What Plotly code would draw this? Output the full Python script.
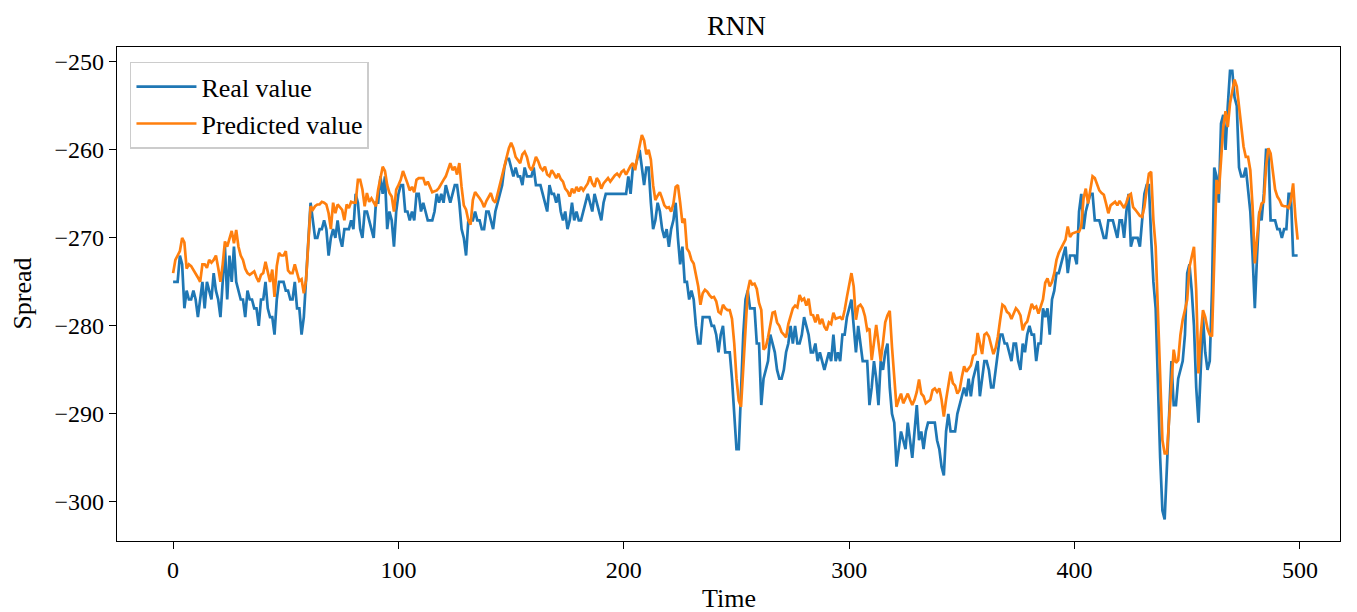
import plotly.graph_objects as go

real_value = [
    -275,-275,-275,-272,-273,-278,-276,-277,-277,-276,
    -277,-279,-277,-275,-278,-275,-276,-277,-274,-276,
    -277,-279,-275,-271,-277,-272,-275,-271,-275,-276,
    -277,-277,-279,-276,-277,-277,-278,-278,-280,-277,
    -277,-275,-278,-279,-279,-281,-277,-275,-275,-275,
    -276,-276,-277,-277,-275,-278,-278,-281,-279,-275,
    -270,-266,-268,-270,-270,-269,-269,-268,-269,-272,
    -270,-269,-270,-268,-270,-271,-269,-269,-269,-268,
    -269,-265,-266,-269,-270,-267,-267,-268,-269,-270,
    -266,-266,-263,-265,-263,-269,-267,-268,-271,-267,
    -265,-264,-264,-267,-267,-268,-267,-268,-265,-265,
    -267,-266,-267,-268,-268,-268,-267,-265,-266,-265,
    -266,-264,-265,-266,-265,-264,-264,-266,-269,-270,
    -272,-268,-268,-268,-267,-268,-268,-269,-269,-267,
    -267,-268,-269,-267,-266,-265,-264,-262,-261,-261,
    -262,-263,-262,-263,-263,-264,-262,-263,-263,-263,
    -262,-264,-264,-264,-265,-266,-267,-264,-265,-265,
    -266,-265,-267,-268,-267,-269,-268,-266,-268,-267,
    -268,-268,-267,-266,-265,-266,-267,-265,-266,-267,
    -268,-266,-265,-265,-265,-265,-265,-265,-265,-265,
    -265,-265,-263,-265,-262,-262,-261,-260,-262,-264,
    -262,-262,-266,-269,-268,-266,-267,-269,-270,-269,
    -271,-269,-268,-266,-270,-273,-271,-275,-275,-277,
    -276,-277,-280,-282,-282,-279,-279,-279,-279,-280,
    -280,-281,-283,-281,-280,-283,-283,-283,-286,-290,
    -294,-294,-287,-281,-277,-276,-278,-278,-278,-282,
    -282,-289,-286,-285,-284,-281,-282,-283,-285,-286,
    -286,-285,-283,-282,-280,-282,-280,-282,-282,-281,
    -279,-280,-281,-283,-283,-282,-284,-283,-284,-285,
    -284,-283,-284,-281,-284,-283,-284,-281,-281,-279,
    -278,-277,-280,-283,-280,-282,-284,-284,-284,-289,
    -287,-284,-286,-289,-284,-285,-283,-282,-287,-290,
    -291,-296,-294,-292,-293,-294,-291,-293,-295,-292,
    -289,-293,-292,-294,-292,-291,-291,-291,-291,-293,
    -294,-296,-297,-292,-290,-292,-292,-292,-290,-289,
    -288,-287,-288,-286,-288,-286,-285,-284,-288,-286,
    -284,-284,-285,-287,-287,-285,-283,-281,-281,-282,
    -282,-283,-284,-282,-282,-284,-285,-282,-283,-281,
    -280,-281,-281,-284,-282,-282,-278,-279,-278,-281,
    -277,-276,-274,-274,-273,-272,-271,-274,-272,-272,
    -272,-273,-267,-265,-269,-267,-266,-265,-265,-268,
    -268,-268,-269,-270,-270,-268,-268,-268,-269,-270,
    -268,-268,-270,-267,-265,-271,-270,-270,-270,-271,
    -268,-265,-264,-264,-270,-275,-278,-287,-295,-301,
    -302,-296,-290,-284,-289,-289,-286,-285,-284,-281,
    -274,-273,-276,-280,-287,-291,-285,-279,-283,-285,
    -284,-276,-262,-263,-266,-257,-256,-260,-255,-251,
    -251,-254,-255,-262,-263,-263,-262,-265,-267,-272,
    -278,-272,-267,-268,-265,-260,-260,-268,-268,-268,
    -269,-269,-270,-269,-269,-265,-265,-272,-272,-272,
]

predicted_value = [
    -274,-272.5,-272,-271.5,-270,-270.5,-273.5,-273,-273.2,-273.6,
    -274,-274.5,-275,-273,-273,-273.4,-272.5,-272.8,-272.5,-272,
    -273.4,-275,-273,-270.4,-271,-270,-269.2,-270.6,-269.1,-271,
    -272,-272.5,-273.5,-274,-274.2,-274,-273.8,-274.5,-275,-274.2,
    -274,-272.7,-274,-275,-273.6,-276.7,-273.2,-271.7,-272,-272,
    -271.5,-273.7,-274,-274,-273,-274,-274.9,-274.7,-276.3,-274.8,
    -270,-266.4,-266.8,-266.4,-266.2,-266.2,-265.9,-266,-266.2,-267.2,
    -269,-266,-267.2,-266.2,-266.5,-266.8,-268,-266.2,-266.6,-265.9,
    -266,-266,-263.4,-263.4,-264.5,-266.4,-264.9,-265.9,-265.5,-266,
    -266.4,-264.5,-263,-261.9,-262.4,-264,-264.9,-265.3,-267,-264.5,
    -264,-263.4,-262.4,-263,-263.8,-264.6,-264.2,-264.8,-263.4,-263.2,
    -263.2,-263.2,-264,-263.6,-264.2,-264.8,-264.7,-264.6,-264.3,-263.8,
    -263.4,-263,-262.1,-261.5,-262.3,-261.9,-262.8,-261.5,-264.2,-266.3,
    -266.8,-268,-268.5,-265.7,-264.8,-265.1,-265.5,-265.9,-266.5,-265.8,
    -265.3,-264.9,-265.7,-266,-265,-264,-263,-261.8,-260.8,-259.8,
    -259.2,-259.8,-260.8,-261.2,-261.5,-260.5,-260.2,-260.8,-261.9,-262.3,
    -261.7,-260.8,-261.3,-262,-262.3,-261.9,-262.8,-263,-262.3,-262.7,
    -263.2,-262.7,-263.3,-263.6,-264.4,-264.7,-265.3,-264.4,-264.9,-264.2,
    -264.7,-264.2,-264.6,-264.2,-263.8,-263,-263.8,-264.2,-263.2,-263.6,
    -264.4,-263.8,-263.5,-263.2,-263.6,-263.2,-262.9,-262.7,-263,-262.5,
    -262.3,-262.8,-262.3,-261.8,-261.5,-262.3,-260.8,-259.6,-258.3,-258.9,
    -260.5,-260,-261.1,-264,-265.7,-265.2,-264.8,-265.5,-266.3,-266.6,
    -266.5,-267,-266.1,-264.2,-264,-266,-268.3,-267.8,-271.2,-271.6,
    -272.5,-272.9,-274.4,-275.5,-277.6,-276.3,-275.9,-276.1,-276.5,-276.8,
    -276.7,-277.2,-278.4,-278.6,-277.6,-278,-278.2,-278.2,-279.2,-282,
    -286,-288.5,-289.2,-285,-280.1,-276,-274.8,-275.3,-275.2,-275.8,
    -277.4,-278.2,-282.7,-282.4,-281.3,-280,-278.5,-278.4,-279.6,-280,
    -280.7,-281,-281.3,-279.8,-278.9,-278,-277.7,-277.9,-276.5,-277.1,
    -276.9,-277.7,-276.9,-278.7,-278.8,-279.6,-278.7,-279.8,-279.2,-280.1,
    -280.5,-279.6,-279.8,-278.5,-279.2,-279.1,-279,-279.3,-278.2,-276.7,
    -275.5,-274,-275.5,-279.3,-277.8,-277.6,-278,-278.9,-280.5,-280.3,
    -283.9,-281.9,-279.9,-281.9,-284,-281.9,-279.6,-278.8,-278.3,-282.4,
    -285.7,-289.2,-288.4,-287.7,-288.8,-288.2,-287.7,-288.4,-289,-288.4,
    -287.5,-286.1,-287.7,-288,-288.8,-288.6,-288.4,-287.3,-287.1,-287.5,
    -287.1,-288.4,-290.3,-288.4,-286.7,-285.2,-286.5,-286.8,-287.7,-287.3,
    -285.8,-284.6,-285.2,-284.9,-284.5,-283.4,-283.2,-280.8,-282.1,-283.2,
    -281,-280.8,-281.2,-282.3,-283.2,-282.5,-281.2,-279.3,-277.6,-277.8,
    -278.4,-278.6,-279.2,-278.6,-278,-278.3,-278.8,-280.5,-279.8,-279.5,
    -278.6,-277.5,-278,-277.8,-278.6,-277.9,-277,-275.1,-274.6,-275.5,
    -275,-274,-272.5,-271.7,-271.2,-270.6,-270.2,-268.7,-269.9,-269.5,
    -269.4,-269.3,-269.3,-268.7,-265.5,-264.4,-266.1,-264.6,-263,-263.2,
    -263.8,-264.6,-264.9,-265.1,-266.1,-267.2,-266.3,-266.1,-265.9,-266.3,
    -265.8,-266.2,-266.6,-266,-265.2,-265,-266.5,-266.8,-267.2,-267.5,
    -267.6,-266.5,-264.5,-262.7,-262.5,-268,-271,-278,-286,-293,
    -294.5,-294.5,-290.5,-286.9,-282.7,-284.2,-283.9,-281,-279.3,-278.2,
    -277,-273.3,-272.1,-271,-276,-285.4,-281,-278.2,-279,-280.3,
    -281,-281.2,-272.5,-263.4,-265,-261.5,-257.4,-255.6,-257.4,-254.7,
    -253.2,-252,-252.8,-254.9,-257.7,-259.6,-260.8,-260.8,-262.3,-266.4,
    -272.9,-269.8,-267.2,-266.1,-265.9,-261.9,-259.8,-260.4,-262.7,-264.5,
    -265.3,-265.7,-266.3,-266.4,-266.4,-266.6,-265.7,-263.8,-267.6,-270.2,
]

time = list(range(len(real_value)))
x_ticks = [0, 100, 200, 300, 400, 500]
y_ticks = [-300, -290, -280, -270, -260, -250]

FONT = "Liberation Serif, Times New Roman, serif"

fig = go.Figure()
fig.add_trace(go.Scatter(x=time, y=real_value, mode="lines", name="Real value",
                         line=dict(color="#1f77b4", width=2.7)))
fig.add_trace(go.Scatter(x=time[:len(predicted_value)], y=predicted_value, mode="lines",
                         name="Predicted value", line=dict(color="#ff7f0e", width=2.7)))

axis_common = dict(showgrid=False, zeroline=False, showline=True, linecolor="black",
                   linewidth=1.3, mirror=True, ticks="outside", ticklen=7, tickwidth=1.3,
                   tickcolor="black", tickfont=dict(family=FONT, size=24, color="black"))

fig.update_layout(
    width=1349, height=604,
    margin=dict(l=109, r=17, t=39, b=71),
    paper_bgcolor="white", plot_bgcolor="white",
    title=dict(text="RNN", x=0.54, xanchor="center", y=0.972, yanchor="middle",
               yref="container", font=dict(family=FONT, size=28, color="black")),
    xaxis=dict(range=[-24.9, 517.8], tickvals=x_ticks, **axis_common),
    yaxis=dict(range=[-304.45, -248.3], tickvals=y_ticks, **axis_common),
    legend=dict(x=0.0106, y=0.970, xanchor="left", yanchor="top",
                bgcolor="rgba(255,255,255,0.8)", bordercolor="#cccccc", borderwidth=1.5,
                font=dict(family=FONT, size=26, color="black"), tracegroupgap=0,
                itemwidth=60),
    showlegend=True,
    annotations=[
        dict(text="Time", xref="paper", yref="paper", x=0.5, y=-0.117, xanchor="center",
             yanchor="middle", showarrow=False, font=dict(family=FONT, size=26, color="black")),
        dict(text="Spread", xref="paper", yref="paper", x=-0.078, y=0.5, xanchor="center",
             yanchor="middle", textangle=-90, showarrow=False,
             font=dict(family=FONT, size=26, color="black")),
    ],
)

fig.write_html("out.html")
